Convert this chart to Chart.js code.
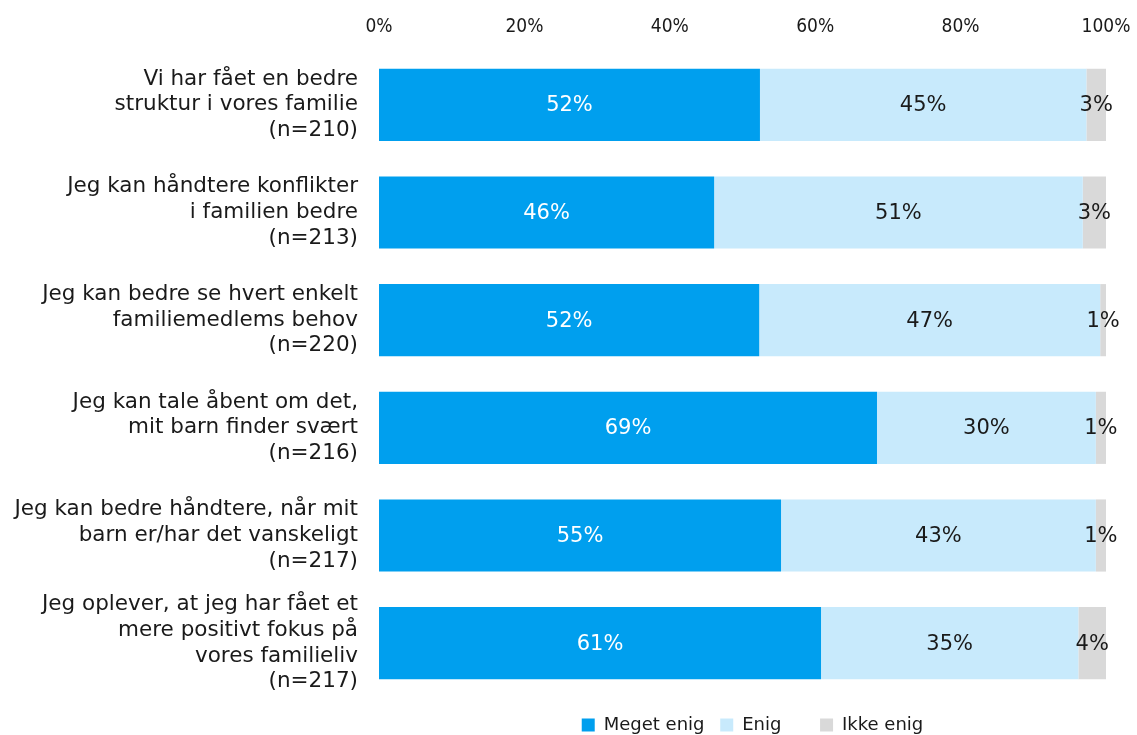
<!DOCTYPE html>
<html>
<head>
<meta charset="utf-8">
<script src="https://cdn.jsdelivr.net/npm/chart.js@4"></script>
<style>
  html, body { margin: 0; padding: 0; background: #fff; }
  #wrap { width: 1137px; height: 735px; }
</style>
</head>
<body>
<div id="wrap"><canvas id="chart"></canvas></div>
<script>
// Data
const categories = [
    ['Vi har fået en bedre', 'struktur i vores familie', '(n=210)'],
    ['Jeg kan håndtere konflikter', 'i familien bedre', '(n=213)'],
    ['Jeg kan bedre se hvert enkelt', 'familiemedlems behov', '(n=220)'],
    ['Jeg kan tale åbent om det,', 'mit barn finder svært', '(n=216)'],
    ['Jeg kan bedre håndtere, når mit', 'barn er/har det vanskeligt', '(n=217)'],
    ['Jeg oplever, at jeg har fået et', 'mere positivt fokus på', 'vores familieliv', '(n=217)']
];
const megetEnig = [52.4, 46.1, 52.3, 68.5, 55.3, 60.8];
const enig = [44.9, 50.7, 46.9, 30.1, 43.3, 35.4];
const ikkeEnig = [2.7, 3.2, 0.8, 1.4, 1.4, 3.8];
const xTicks = [0, 20, 40, 60, 80, 100];
const legendNames = ['Meget enig', 'Enig', 'Ikke enig'];

const FONT = 'Verdana, "DejaVu Sans", sans-serif';

// Draw the percentage labels in the middle of each segment
const segmentLabels = {
    id: 'segmentLabels',
    afterDatasetsDraw(chart) {
        const ctx = chart.ctx;
        ctx.save();
        ctx.font = '21px ' + FONT;
        ctx.textAlign = 'center';
        ctx.textBaseline = 'middle';
        chart.data.datasets.forEach((ds, i) => {
            const meta = chart.getDatasetMeta(i);
            meta.data.forEach((bar, j) => {
                const cx = (bar.x + bar.base) / 2;
                ctx.fillStyle = i === 0 ? '#ffffff' : '#1a1a1a';
                ctx.fillText(Math.round(ds.data[j]) + '%', cx, bar.y + 1);
            });
        });
        ctx.restore();
    }
};

// nudge the legend a bit lower and to the right, like the original
const legendNudge = {
    id: 'legendNudge',
    afterLayout(chart) {
        const lg = chart.legend;
        if (!lg) return;
        lg.top += 9;
        lg.bottom += 9;
        lg.left += 10;
        lg.right += 10;
    }
};

new Chart(document.getElementById('chart'), {
    type: 'bar',
    data: {
        labels: categories,
        datasets: [
            { label: legendNames[0], data: megetEnig, backgroundColor: '#009fee' },
            { label: legendNames[1], data: enig, backgroundColor: '#c8eafc' },
            { label: legendNames[2], data: ikkeEnig, backgroundColor: '#d9d9d9' }
        ]
    },
    options: {
        indexAxis: 'y',
        responsive: true,
        maintainAspectRatio: false,
        animation: false,
        layout: { padding: { top: 0, right: 31, bottom: 0, left: 0 } },
        categoryPercentage: 0.67,
        barPercentage: 1,
        scales: {
            x: {
                position: 'top',
                stacked: true,
                min: 0,
                max: 100,
                afterBuildTicks(scale) {
                    scale.ticks = xTicks.map(v => ({ value: v }));
                },
                afterFit(scale) {
                    scale.height = 51;
                    scale.paddingLeft = 0;
                    scale.paddingRight = 0;
                },
                grid: { display: false, drawTicks: false },
                border: { display: false },
                ticks: {
                    padding: 13,
                    color: '#1a1a1a',
                    font: { family: '"DejaVu Sans Condensed", ' + FONT, size: 19 },
                    callback: v => v + '%'
                }
            },
            y: {
                stacked: true,
                afterFit(scale) {
                    scale.width = 379;
                    scale.paddingTop = 0;
                    scale.paddingBottom = 0;
                },
                grid: { display: false, drawTicks: false },
                border: { display: false },
                ticks: {
                    padding: 21,
                    color: '#1a1a1a',
                    font: { family: FONT, size: 21.5, lineHeight: 1.19 }
                }
            }
        },
        plugins: {
            legend: {
                position: 'bottom',
                fullSize: false,
                labels: {
                    boxWidth: 13,
                    boxHeight: 13,
                    padding: 10,
                    color: '#1a1a1a',
                    font: { family: FONT, size: 18 },
                    generateLabels(chart) {
                        const items = Chart.defaults.plugins.legend.labels.generateLabels(chart);
                        // Excel-style uneven gaps between the entries
                        items[0].text = legendNames[0] + ' ';
                        items[1].text = legendNames[1] + '     ';
                        return items;
                    }
                }
            },
            tooltip: { enabled: false }
        }
    },
    plugins: [segmentLabels, legendNudge]
});
</script>
</body>
</html>
